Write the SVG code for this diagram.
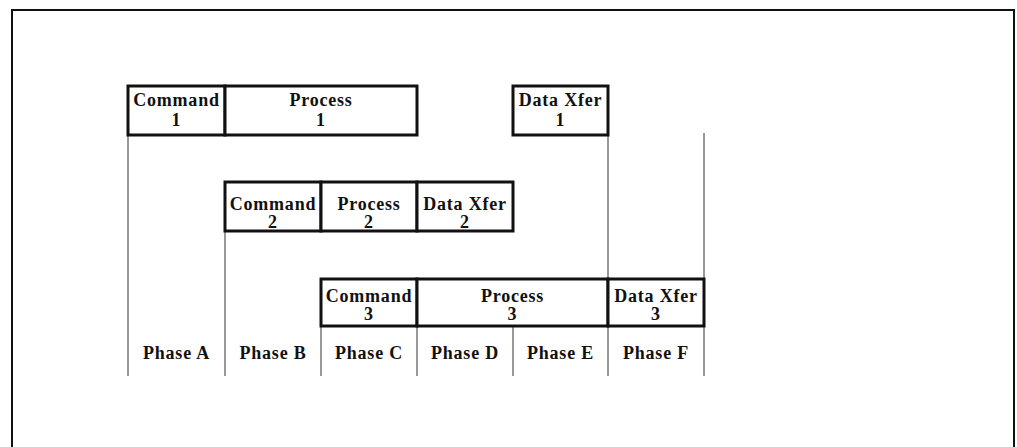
<svg xmlns="http://www.w3.org/2000/svg" width="1017" height="447" viewBox="0 0 1017 447">
  <style>
    .frame { fill: none; stroke: #111; stroke-width: 2; }
    .box { fill: #fff; stroke: #111; stroke-width: 3; }
    .guide { stroke: #333; stroke-width: 1; fill: none; }
    text { font-family: "Liberation Serif", "Times New Roman", serif; font-weight: bold; font-size: 18px; fill: #111; text-anchor: middle; letter-spacing: 0.8px; }
  </style>
  <rect x="0" y="0" width="1017" height="447" fill="#fff"/>
  <path class="frame" d="M12,447 V10 H1014 V447"/>

  <!-- timeline guide lines -->
  <g id="connectors">
    <line class="guide" x1="128" y1="135" x2="128" y2="376"/>
    <line class="guide" x1="225" y1="231" x2="225" y2="376"/>
    <line class="guide" x1="321" y1="326" x2="321" y2="376"/>
    <line class="guide" x1="417" y1="326" x2="417" y2="376"/>
    <line class="guide" x1="513" y1="326" x2="513" y2="376"/>
    <line class="guide" x1="608" y1="135" x2="608" y2="279"/>
    <line class="guide" x1="608" y1="326" x2="608" y2="376"/>
    <line class="guide" x1="704" y1="133" x2="704" y2="279"/>
    <line class="guide" x1="704" y1="326" x2="704" y2="376"/>
  </g>

  <!-- command 1 -->
  <g id="cmd1">
    <rect class="box" x="128" y="86" width="97" height="49"/>
    <text x="176.5" y="106">Command</text>
    <text x="176.5" y="126">1</text>
  </g>
  <g id="proc1">
    <rect class="box" x="225" y="86" width="192" height="49"/>
    <text x="321" y="106">Process</text>
    <text x="321" y="126">1</text>
  </g>
  <g id="xfer1">
    <rect class="box" x="513" y="86" width="95" height="49"/>
    <text x="560.5" y="106">Data Xfer</text>
    <text x="560.5" y="126">1</text>
  </g>

  <!-- command 2 -->
  <g id="cmd2">
    <rect class="box" x="225" y="182" width="96" height="49"/>
    <text x="273" y="210">Command</text>
    <text x="273" y="228">2</text>
  </g>
  <g id="proc2">
    <rect class="box" x="321" y="182" width="96" height="49"/>
    <text x="369" y="210">Process</text>
    <text x="369" y="228">2</text>
  </g>
  <g id="xfer2">
    <rect class="box" x="417" y="182" width="96" height="49"/>
    <text x="465" y="210">Data Xfer</text>
    <text x="465" y="228">2</text>
  </g>

  <!-- command 3 -->
  <g id="cmd3">
    <rect class="box" x="321" y="279" width="96" height="47"/>
    <text x="369" y="302">Command</text>
    <text x="369" y="320">3</text>
  </g>
  <g id="proc3">
    <rect class="box" x="417" y="279" width="191" height="47"/>
    <text x="512.5" y="302">Process</text>
    <text x="512.5" y="320">3</text>
  </g>
  <g id="xfer3">
    <rect class="box" x="608" y="279" width="96" height="47"/>
    <text x="656" y="302">Data Xfer</text>
    <text x="656" y="320">3</text>
  </g>

  <!-- phase labels -->
  <g id="phases">
    <text x="176.5" y="359">Phase A</text>
    <text x="273" y="359">Phase B</text>
    <text x="369" y="359">Phase C</text>
    <text x="465" y="359">Phase D</text>
    <text x="560.5" y="359">Phase E</text>
    <text x="656" y="359">Phase F</text>
  </g>
</svg>
